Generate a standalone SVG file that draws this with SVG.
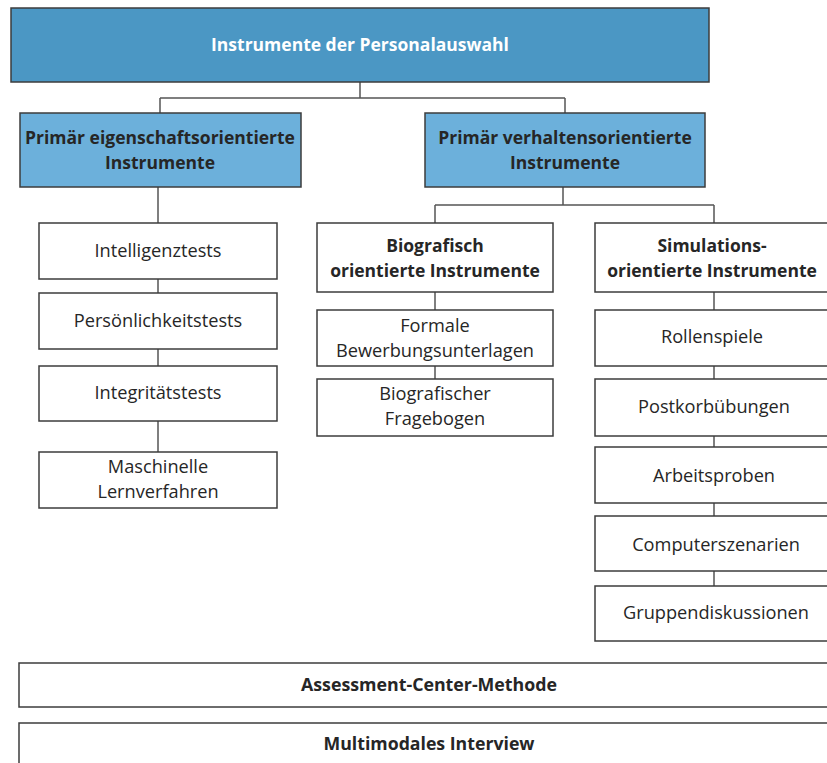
<svg xmlns="http://www.w3.org/2000/svg" width="827" height="763" viewBox="0 0 827 763">
  <style>
    .box { fill: #ffffff; stroke: #3c3c3c; stroke-width: 1.5; }
    .top { fill: #4b97c4; stroke: #3c3c3c; stroke-width: 1.5; }
    .sub { fill: #6cb0db; stroke: #3c3c3c; stroke-width: 1.5; }
    .t { font-family: "Open Sans", "Liberation Sans", sans-serif; font-size: 18.2px; fill: #262626; text-anchor: middle; }
    .b { font-weight: bold; font-size: 17.5px; }
    .w { fill: #ffffff; }
    .conn { fill: none; stroke: #555555; stroke-width: 1.5; }
  </style>

  <!-- connectors -->
  <g id="connectors">
    <path class="conn" d="M360 82 V98 M160 98 H565 M160 98 V113 M565 98 V113"/>
    <path class="conn" d="M158 187 V223 M158 279 V293 M158 349 V366 M158 421 V452"/>
    <path class="conn" d="M563 187 V205 M435 205 H714 M435 205 V223 M714 205 V223"/>
    <path class="conn" d="M435 292 V310 M435 366 V379"/>
    <path class="conn" d="M714 292 V310 M714 366 V379 M714 436 V447 M714 503 V516 M714 571 V586"/>
  </g>

  <g id="root">
    <rect class="top" x="11" y="8" width="698" height="74"/>
    <text class="t b w" x="360" y="51" font-size="16">Instrumente der Personalauswahl</text>
  </g>

  <g id="trait">
    <rect class="sub" x="20" y="113" width="281" height="74"/>
    <text class="t b" x="160" y="144">Primär eigenschaftsorientierte</text>
    <text class="t b" x="160" y="169">Instrumente</text>
  </g>

  <g id="behaviour">
    <rect class="sub" x="425" y="113" width="280" height="74"/>
    <text class="t b" x="565" y="144">Primär verhaltensorientierte</text>
    <text class="t b" x="565" y="169">Instrumente</text>
  </g>

  <g id="intelligence">
    <rect class="box" x="39" y="223" width="238" height="56"/>
    <text class="t" x="158" y="257">Intelligenztests</text>
  </g>
  <g id="personality">
    <rect class="box" x="39" y="293" width="238" height="56"/>
    <text class="t" x="158" y="327">Persönlichkeitstests</text>
  </g>
  <g id="integrity">
    <rect class="box" x="39" y="366" width="238" height="55"/>
    <text class="t" x="158" y="399">Integritätstests</text>
  </g>
  <g id="machine-learning">
    <rect class="box" x="39" y="452" width="238" height="56"/>
    <text class="t" x="158" y="473">Maschinelle</text>
    <text class="t" x="158" y="498">Lernverfahren</text>
  </g>

  <g id="biographical">
    <rect class="box" x="317" y="223" width="236" height="69"/>
    <text class="t b" x="435" y="252">Biografisch</text>
    <text class="t b" x="435" y="277">orientierte Instrumente</text>
  </g>
  <g id="application-docs">
    <rect class="box" x="317" y="310" width="236" height="56"/>
    <text class="t" x="435" y="332">Formale</text>
    <text class="t" x="435" y="357">Bewerbungsunterlagen</text>
  </g>
  <g id="bio-questionnaire">
    <rect class="box" x="317" y="379" width="236" height="57"/>
    <text class="t" x="435" y="400">Biografischer</text>
    <text class="t" x="435" y="425">Fragebogen</text>
  </g>

  <g id="simulation">
    <rect class="box" x="595" y="223" width="240" height="69"/>
    <text class="t b" x="712" y="252">Simulations-</text>
    <text class="t b" x="712" y="277">orientierte Instrumente</text>
  </g>
  <g id="role-play">
    <rect class="box" x="595" y="310" width="240" height="56"/>
    <text class="t" x="712" y="343">Rollenspiele</text>
  </g>
  <g id="in-basket">
    <rect class="box" x="595" y="379" width="240" height="57"/>
    <text class="t" x="714" y="413">Postkorbübungen</text>
  </g>
  <g id="work-samples">
    <rect class="box" x="595" y="447" width="240" height="56"/>
    <text class="t" x="714" y="482">Arbeitsproben</text>
  </g>
  <g id="computer-scenarios">
    <rect class="box" x="595" y="516" width="240" height="55"/>
    <text class="t" x="716" y="551">Computerszenarien</text>
  </g>
  <g id="group-discussions">
    <rect class="box" x="595" y="586" width="240" height="55"/>
    <text class="t" x="716" y="619">Gruppendiskussionen</text>
  </g>

  <g id="assessment-center">
    <rect class="box" x="19" y="663" width="830" height="44"/>
    <text class="t b" x="429" y="691" font-size="16.5" textLength="256" lengthAdjust="spacingAndGlyphs">Assessment-Center-Methode</text>
  </g>
  <g id="multimodal-interview">
    <rect class="box" x="19" y="723" width="830" height="60"/>
    <text class="t b" x="429" y="750" font-size="16.5" textLength="211" lengthAdjust="spacingAndGlyphs">Multimodales Interview</text>
  </g>
</svg>
